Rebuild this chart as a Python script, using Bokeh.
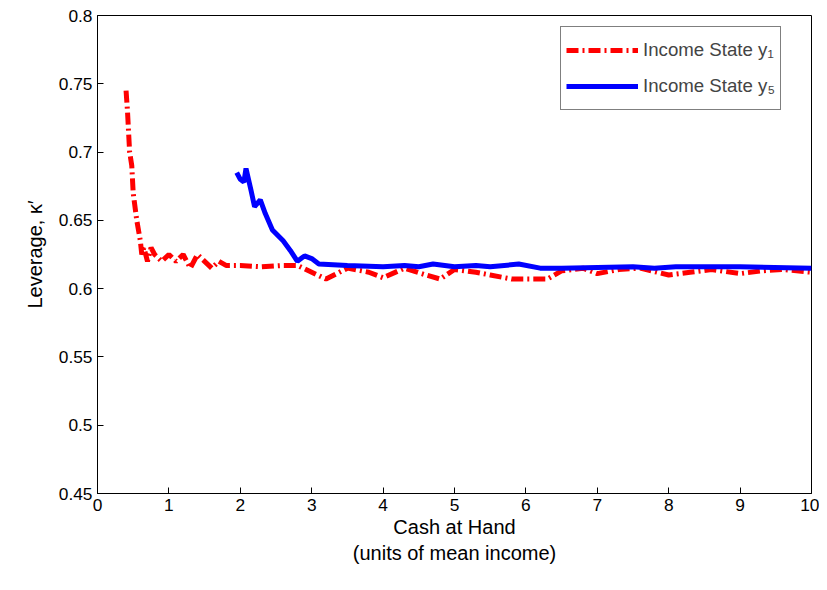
from bokeh.plotting import figure
from bokeh.models import Range1d, Legend, LegendItem, FixedTicker
from bokeh.embed import file_html
from bokeh.resources import INLINE

red_x = [0.4,0.42,0.45,0.48,0.5,0.55,0.6,0.62,0.65,0.7,0.75,0.8,0.9,1.0,1.1,1.2,1.3,1.4,1.5,1.6,1.7,1.8,2.0,2.3,2.6,2.8,3.0,3.2,3.5,3.8,4.0,4.3,4.6,4.8,5.0,5.3,5.5,5.8,6.0,6.3,6.5,6.8,7.0,7.3,7.6,8.0,8.3,8.6,9.0,9.3,9.6,10.0]
red_y = [0.745,0.73,0.70,0.69,0.67,0.65,0.635,0.625,0.63,0.62,0.63,0.625,0.62,0.625,0.62,0.625,0.615,0.625,0.62,0.615,0.62,0.617,0.617,0.616,0.617,0.617,0.612,0.607,0.615,0.612,0.608,0.615,0.61,0.607,0.614,0.612,0.61,0.607,0.607,0.607,0.613,0.615,0.611,0.614,0.615,0.61,0.612,0.614,0.611,0.613,0.614,0.612]
blue_x = [1.95,2.0,2.05,2.08,2.15,2.2,2.28,2.35,2.45,2.6,2.7,2.8,2.9,3.0,3.1,3.5,4.0,4.3,4.5,4.7,5.0,5.3,5.5,5.9,6.2,6.5,7.5,7.8,8.1,9.0,10.0]
blue_y = [0.685,0.68,0.678,0.688,0.672,0.66,0.665,0.655,0.643,0.635,0.628,0.62,0.624,0.622,0.618,0.617,0.616,0.617,0.616,0.618,0.616,0.617,0.616,0.618,0.615,0.615,0.616,0.615,0.616,0.616,0.615]
x_ticks = list(range(0, 11))
y_ticks = [0.45,0.5,0.55,0.6,0.65,0.7,0.75,0.8]

F = "Liberation Sans"
p = figure(width=819, height=582, output_backend="svg", toolbar_location=None,
           x_range=Range1d(0, 10), y_range=Range1d(0.45, 0.8),
           min_border_left=97, min_border_right=8, min_border_top=15, min_border_bottom=89)
p.grid.visible = False
p.outline_line_color = "black"
p.outline_line_width = 1

r1 = p.line(red_x, red_y, color="red", line_width=5, line_dash="12 4 2 4")
r2 = p.line(blue_x, blue_y, color="blue", line_width=5)

for ax in (p.xaxis[0], p.yaxis[0]):
    ax.major_tick_in = 6; ax.major_tick_out = 0; ax.minor_tick_line_color = None
    ax.major_label_text_font = F; ax.major_label_text_font_size = "13pt"
    ax.axis_label_text_font = F; ax.axis_label_text_font_size = "15pt"
    ax.axis_label_text_font_style = "normal"
    ax.major_label_text_color = "black"; ax.axis_label_text_color = "black"
    ax.axis_line_color = "black"; ax.major_tick_line_color = "black"
p.xaxis[0].ticker = FixedTicker(ticks=x_ticks)
p.yaxis[0].ticker = FixedTicker(ticks=y_ticks)
p.xaxis[0].axis_label = "Cash at Hand\n(units of mean income)"
p.yaxis[0].axis_label = "Leverage, κ′"
p.xaxis[0].axis_label_standoff = 2
p.yaxis[0].axis_label_standoff = 10

leg = Legend(items=[LegendItem(label="Income State y₁", renderers=[r1]),
                    LegendItem(label="Income State y₅", renderers=[r2])],
             location=(463, 383), label_text_font=F, label_text_font_size="14pt",
             label_height=36, glyph_height=36,
             border_line_color="black", glyph_width=72, margin=0, spacing=0, padding=5)
p.add_layout(leg)

open("out.html", "w").write(file_html(p, INLINE))
